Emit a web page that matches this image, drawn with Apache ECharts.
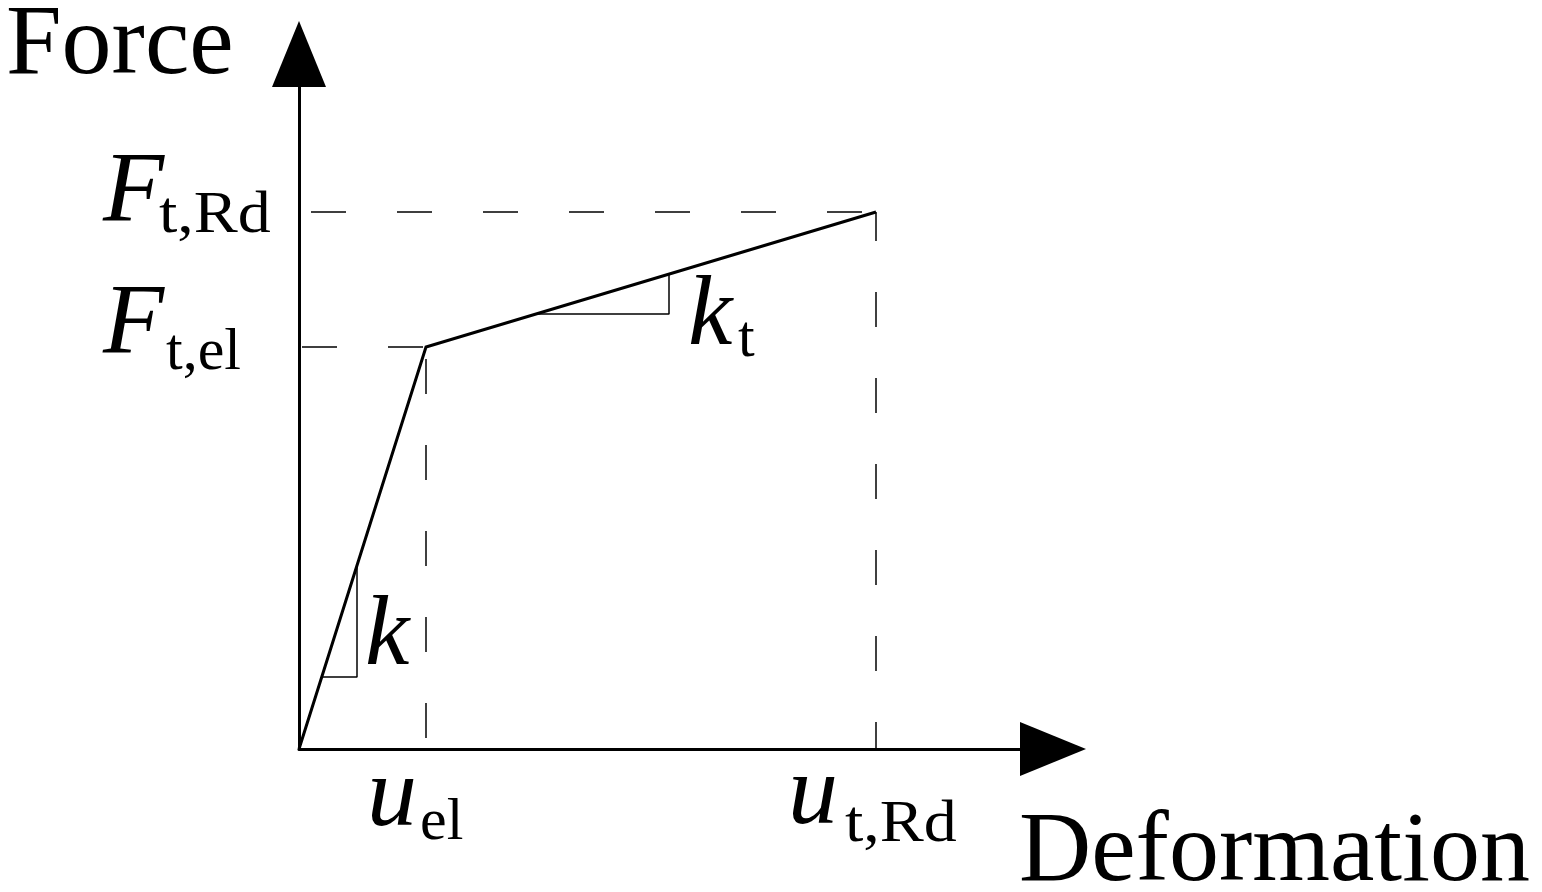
<!DOCTYPE html>
<html>
<head>
<meta charset="utf-8">
<script src="https://cdn.jsdelivr.net/npm/echarts@6/dist/echarts.min.js"></script>
<style>
  html, body { margin: 0; padding: 0; background: #fff; }
  #main { width: 1542px; height: 892px; }
</style>
</head>
<body>
<div id="main"></div>
<script>
// bilinear force-deformation curve (units)
const deformation = [0, 127, 577];   // 0, u_el, u_t,Rd
const force = [0, 402, 537];         // 0, F_t,el, F_t,Rd
const axisMax = [754, 695];          // x max, y max

// slope marks: [x of the vertical leg, y of the horizontal leg]
const kStep = [58, 72];
const ktStep = [370, 435];

const serif = "'Liberation Serif', 'Times New Roman', serif";

// point on the curve segment i for a given x or y
function yAt(i, x) {
  const t = (x - deformation[i]) / (deformation[i + 1] - deformation[i]);
  return force[i] + t * (force[i + 1] - force[i]);
}
function xAt(i, y) {
  const t = (y - force[i]) / (force[i + 1] - force[i]);
  return deformation[i] + t * (deformation[i + 1] - deformation[i]);
}

function stepLine(i, step) {
  return [
    [xAt(i, step[1]), step[1]],
    [step[0], step[1]],
    [step[0], yAt(i, step[0])]
  ];
}

const curve = deformation.map((d, i) => [d, force[i]]);

function dashed(data, offset) {
  return {
    type: 'line',
    data: data,
    symbol: 'none',
    silent: true,
    lineStyle: { color: '#000', width: 1.5, type: [35, 51], dashOffset: offset }
  };
}

function thin(data) {
  return {
    type: 'line',
    data: data,
    symbol: 'none',
    silent: true,
    lineStyle: { color: '#000', width: 1.5 }
  };
}

// text: [string, left x, baseline y, size, italic, x stretch]
const texts = [
  ['Force', 6, 75, 100, false, 1],
  ['Deformation', 1019, 882, 100, false, 1],
  ['F', 103, 222, 100, true, 1],
  ['t,Rd', 159, 233, 60, false, 1.1],
  ['F', 103, 354, 100, true, 1],
  ['t,el', 166, 370, 60, false, 1],
  ['u', 367, 827, 100, true, 1],
  ['el', 420, 840, 60, false, 1],
  ['u', 788, 825, 100, true, 1],
  ['t,Rd', 845, 842, 60, false, 1.1],
  ['k', 365, 666, 100, true, 1],
  ['k', 688, 346, 100, true, 1],
  ['t', 738, 357, 60, false, 1]
];

const chart = echarts.init(document.getElementById('main'));

const option = {
  backgroundColor: '#fff',
  animation: false,
  grid: { left: 299, right: 489, top: 54, bottom: 143, outerBoundsMode: 'none' },
  xAxis: {
    type: 'value',
    min: 0,
    max: axisMax[0],
    axisLine: {
      onZero: false,
      symbol: ['none', 'triangle'],
      symbolSize: [54, 66],
      lineStyle: { color: '#000', width: 3 }
    },
    axisTick: { show: false },
    axisLabel: { show: false },
    splitLine: { show: false }
  },
  yAxis: {
    type: 'value',
    min: 0,
    max: axisMax[1],
    axisLine: {
      show: true,
      onZero: false,
      symbol: ['none', 'triangle'],
      symbolSize: [54, 66],
      lineStyle: { color: '#000', width: 3 }
    },
    axisTick: { show: false },
    axisLabel: { show: false },
    splitLine: { show: false }
  },
  series: [
    dashed([[0, force[2]], [deformation[2], force[2]]], 74),
    dashed([[0, force[1]], [deformation[1], force[1]]], 83),
    dashed([[deformation[1], 0], [deformation[1], force[1]]], 75),
    dashed([[deformation[2], 0], [deformation[2], force[2]]], 8),
    thin(stepLine(0, kStep)),
    thin(stepLine(1, ktStep)),
    {
      type: 'line',
      data: curve,
      symbol: 'none',
      silent: true,
      z: 5,
      lineStyle: { color: '#000', width: 3, join: 'miter' }
    }
  ],
  graphic: texts.map(t => ({
    type: 'text',
    x: t[1],
    y: t[2],
    scaleX: t[5],
    silent: true,
    style: {
      text: t[0],
      x: 0,
      y: -t[3] * 0.28,
      fill: '#000',
      font: (t[4] ? 'italic ' : '') + t[3] + 'px ' + serif,
      align: 'left',
      verticalAlign: 'middle'
    }
  }))
};

chart.setOption(option);
</script>
</body>
</html>
